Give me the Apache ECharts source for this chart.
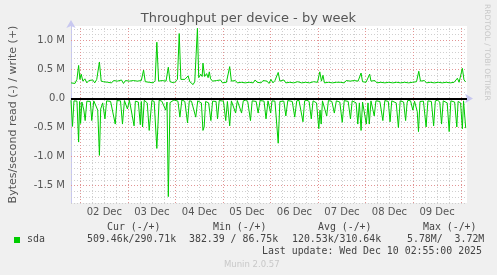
<!DOCTYPE html>
<html><head><meta charset="utf-8">
<script src="https://cdn.jsdelivr.net/npm/echarts@6/dist/echarts.min.js"></script>
<style>html,body{margin:0;padding:0;background:#f0f0f0}#c{width:497px;height:275px}</style>
</head><body><div id="c"></div>
<script>
// Hours since 01 Dec 00:00, values in kB/s
const writeHours = [19.15,20.15,21.15,22.15,23.0,23.65,24.3,25.15,26.15,27.15,28.15,29.15,30.15,31.15,32.15,33.5,34.4,35.65,36.65,37.65,38.65,39.65,40.65,41.65,42.65,43.65,44.65,45.65,46.65,47.65,48.65,49.65,50.65,51.65,52.65,53.65,54.65,55.8,56.65,57.65,58.65,59.65,60.65,61.65,62.5,63.4,64.15,65.15,66.15,67.15,68.3,69.15,70.15,71.15,72.15,72.9,73.8,74.65,75.65,76.65,77.4,78.3,79.15,80.15,80.8,81.65,82.4,83.0,83.65,84.65,85.4,85.8,86.65,87.65,88.4,89.0,89.65,90.65,91.65,92.65,93.65,94.65,95.65,96.65,97.65,98.4,99.3,100.15,101.15,102.15,103.15,104.15,105.15,106.15,107.15,108.15,109.15,110.15,111.15,112.15,113.15,114.15,115.15,116.15,117.15,118.15,119.15,120.15,121.15,122.15,122.9,123.8,124.65,125.65,126.65,127.65,128.65,129.65,130.65,131.65,132.65,133.65,134.65,135.65,136.65,137.65,138.65,139.65,140.65,141.65,142.65,143.65,144.8,145.65,146.4,147.15,148.15,149.15,150.15,151.15,152.15,153.15,154.15,155.15,156.15,157.15,158.15,159.15,160.15,161.15,162.15,163.15,164.15,164.9,165.65,166.4,167.15,168.15,169.15,170.0,170.65,171.65,172.65,173.65,174.65,175.65,176.65,177.65,178.65,179.65,180.65,181.65,182.65,183.65,184.65,185.65,186.65,187.65,188.65,189.65,190.65,191.65,192.65,193.65,194.8,195.65,196.65,197.65,198.65,199.65,200.65,201.65,202.65,203.65,204.65,205.65,206.65,207.65,208.65,209.65,210.65,211.65,212.65,213.4,214.3,215.15,215.9,216.8,217.65,218.5];
const writeK = [270,300,260,330,570,330,420,300,340,270,310,280,320,270,330,630,300,290,310,280,300,270,310,290,300,270,320,260,310,290,300,270,310,280,300,270,310,490,290,310,280,300,270,310,970,300,280,310,280,300,540,290,310,270,300,330,1120,330,310,330,300,390,290,310,240,290,320,1210,360,420,380,610,380,430,360,460,340,300,270,310,280,320,270,300,280,310,550,300,280,310,270,300,280,310,270,300,280,310,270,320,280,300,270,310,290,300,260,330,270,310,300,450,300,280,320,270,300,280,310,270,300,290,310,270,300,280,310,270,300,290,310,280,460,300,400,270,300,280,310,270,300,280,310,280,300,270,310,280,300,270,310,280,300,330,440,290,310,280,300,420,300,280,310,270,300,280,310,270,300,280,310,270,300,280,310,270,300,280,310,270,300,280,310,290,470,300,280,310,270,300,280,310,270,300,280,310,270,300,280,310,270,300,280,300,350,280,310,520,320,290];
const readHours = [19.15,19.9,20.65,21.3,22.15,23.0,23.5,24.0,24.65,25.15,25.65,26.3,27.15,28.15,28.9,29.65,30.65,31.65,32.65,33.5,34.15,35.15,35.65,36.3,37.15,38.15,39.15,40.15,41.5,42.4,43.15,44.15,45.15,46.15,46.9,47.65,48.65,49.65,51.0,51.65,52.5,53.15,54.15,54.65,55.3,56.15,56.9,57.65,58.65,60.0,61.15,62.5,63.65,65.0,65.9,67.0,67.65,68.3,69.15,70.0,71.15,72.0,73.15,74.15,75.15,75.8,76.65,78.0,78.9,80.0,80.9,82.15,83.15,84.15,85.0,85.8,86.4,87.15,87.65,88.65,89.8,90.65,91.5,92.4,93.15,94.0,94.8,96.15,97.3,98.15,99.3,100.15,101.0,102.3,103.15,104.15,105.3,106.15,107.3,108.4,109.8,110.65,111.5,112.65,113.65,114.65,115.65,116.65,117.65,118.65,120.0,120.65,121.3,122.15,122.9,123.8,124.65,125.5,126.65,127.65,128.65,129.65,130.9,132.15,133.15,134.3,135.15,136.3,137.15,138.3,139.4,140.5,141.4,142.15,143.15,144.3,144.9,145.5,146.15,146.65,148.3,149.15,149.65,150.9,152.15,153.15,153.8,154.9,156.15,157.15,157.8,159.15,160.3,161.15,162.0,163.15,164.0,164.8,165.65,166.4,167.0,168.3,169.15,169.8,170.65,171.15,172.3,173.15,173.65,175.15,176.65,177.65,178.3,179.4,180.3,181.15,182.0,183.4,184.5,185.4,186.15,187.15,188.15,188.9,189.3,190.65,191.8,192.65,194.0,194.65,195.4,196.0,197.15,198.5,199.4,200.15,201.15,202.3,203.15,204.3,205.4,206.3,207.15,208.0,209.15,210.15,211.0,211.8,212.9,214.0,214.65,215.15,215.9,216.8,217.4,217.9,218.5];
const readK = [-30,-480,-40,-25,-45,-750,-50,-430,-60,-35,-200,-380,-45,-70,-50,-380,-40,-60,-200,-980,-180,-75,-45,-350,-40,-30,-50,-30,-440,-35,-25,-40,-440,-35,-60,-180,-30,-20,-470,-45,-30,-60,-450,-50,-490,-30,-40,-75,-550,-35,-50,-860,-30,-45,-30,-200,-60,-1690,-70,-40,-25,-30,-45,-320,-25,-30,-50,-420,-40,-45,-30,-320,-40,-45,-75,-550,-490,-50,-40,-75,-380,-45,-30,-50,-350,-35,-30,-45,-380,-50,-470,-40,-30,-250,-35,-45,-250,-40,-30,-50,-380,-40,-30,-50,-250,-35,-30,-45,-350,-40,-250,-40,-30,-45,-75,-770,-50,-30,-45,-300,-35,-30,-50,-320,-40,-30,-50,-400,-40,-30,-50,-350,-40,-30,-75,-520,-200,-440,-40,-30,-300,-35,-30,-50,-250,-40,-30,-60,-410,-35,-30,-50,-350,-40,-30,-75,-440,-75,-550,-60,-35,-440,-75,-440,-40,-30,-300,-40,-30,-50,-380,-35,-30,-50,-400,-40,-30,-75,-500,-40,-30,-60,-380,-75,-30,-40,-200,-45,-220,-570,-50,-30,-45,-490,-40,-30,-50,-470,-40,-30,-60,-440,-40,-30,-75,-570,-40,-30,-60,-490,-50,-30,-75,-520,-40,-50,-510];
const dayLabels = ['02 Dec','03 Dec','04 Dec','05 Dec','06 Dec','07 Dec','08 Dec','09 Dec'];
const dayLabelHours = [36,60,84,108,132,156,180,204];
const legendHeads = ['Cur (-/+)','Min (-/+)','Avg (-/+)','Max (-/+)'];
const legendVals = ['509.46k/290.71k','382.39 / 86.75k','120.53k/310.64k','5.78M/  3.72M'];
const xMin = 19.15, xMax = 219.15;

const pair = (h, v) => h.map((x, i) => [x, v[i]]);
const green = '#00cc00';
const minorV = [], majorV = [];
for (let h = 24; h < xMax; h += 6) { (h % 24 === 0 ? majorV : minorV).push(h); }
const minorH = [], majorH = [];
for (let v = -1800; v <= 1200; v += 100) { if (v === 0) continue; (v % 500 === 0 ? majorH : minorH).push(v); }
const ml = (arr, key, color) => arr.map(v => ({ [key]: v, lineStyle: { color, type: [1, 2], width: 1 } }));

const chart = echarts.init(document.getElementById('c'), null, { renderer: 'canvas' });
const mono = 'DejaVu Sans Mono';
const graphics = [
  { type: 'text', left: 'center', top: 12, style: { text: 'Throughput per device - by week', font: '13px "DejaVu Sans"', fill: '#555' } },
  { type: 'text', x: 491, y: 4, rotation: -Math.PI / 2, style: { text: 'RRDTOOL / TOBI OETIKER', font: '7.5px "DejaVu Sans"', fill: '#c8c8c8' } },
  { type: 'rect', shape: { x: 14, y: 237, width: 6, height: 6 }, style: { fill: green } },
  { type: 'text', x: 27, y: 234, style: { text: 'sda', font: '9.9px ' + mono, fill: '#444' } },
  { type: 'text', x: 262, y: 246, style: { text: 'Last update: Wed Dec 10 02:55:00 2025', font: '9.9px ' + mono, fill: '#444' } },
  { type: 'text', x: 224, y: 260, style: { text: 'Munin 2.0.57', font: '8.5px "DejaVu Sans"', fill: '#c8c8c8' } }
];
const headX = [107, 213, 318, 423], valX = [87, 189, 292, 407];
legendHeads.forEach((t, i) => graphics.push({ type: 'text', x: headX[i], y: 222, style: { text: t, font: '9.9px ' + mono, fill: '#444' } }));
legendVals.forEach((t, i) => graphics.push({ type: 'text', x: valX[i], y: 234, style: { text: t, font: '9.9px ' + mono, fill: '#444' } }));

chart.setOption({
  backgroundColor: '#f0f0f0',
  animation: false,
  textStyle: { fontFamily: 'DejaVu Sans' },
  grid: { left: 67, right: 30, top: 26, bottom: 72, show: true, backgroundColor: '#ffffff', borderWidth: 0 },
  xAxis: [{
    type: 'value', min: xMin, max: xMax,
    axisLine: { show: true, lineStyle: { color: '#c8c8f0', width: 1 }, symbol: ['none', 'arrow'], symbolSize: [7, 8], symbolOffset: [0, 6] },
    axisTick: { show: false }, splitLine: { show: false },
    axisLabel: { customValues: dayLabelHours, formatter: v => dayLabels[dayLabelHours.indexOf(v)] || '', color: '#555', fontSize: 10, margin: 4, hideOverlap: false }
  }],
  yAxis: [{
    type: 'value', min: -1800, max: 1250, interval: 100,
    name: 'Bytes/second read (-) / write (+)', nameLocation: 'middle', nameGap: 52, nameRotate: 90,
    nameTextStyle: { color: '#555', fontSize: 11 },
    axisLine: { show: true, lineStyle: { color: '#c8c8f0', width: 1 }, symbol: ['none', 'arrow'], symbolSize: [7, 8], symbolOffset: [0, 6] },
    axisTick: { show: false }, splitLine: { show: false },
    axisLabel: { color: '#555', fontSize: 10, margin: 6, showMaxLabel: false,
      formatter: v => (v % 500 === 0 && v <= 1200) ? (v === 0 ? '0.0' : (v / 1000).toFixed(1) + ' M') : '' }
  }],
  series: [
    { type: 'line', data: [[xMin, 0]], showSymbol: false, lineStyle: { opacity: 0 }, silent: true, z: 1,
      markLine: { silent: true, symbol: 'none', label: { show: false }, z: 1, animation: false,
        data: [].concat(ml(minorV, 'xAxis', '#cfcfcf'), ml(minorH, 'yAxis', '#cfcfcf'), ml(majorV, 'xAxis', '#e29494'), ml(majorH, 'yAxis', '#e29494')) } },
    { name: 'write', type: 'line', data: pair(writeHours, writeK), showSymbol: false, lineStyle: { color: green, width: 1 }, z: 3 },
    { name: 'read', type: 'line', data: pair(readHours, readK), showSymbol: false, lineStyle: { color: green, width: 1 }, z: 3,
      markLine: { silent: true, symbol: 'none', label: { show: false }, z: 6, data: [{ yAxis: 0, lineStyle: { color: '#000', width: 2, type: 'solid' } }] } }
  ],
  graphic: graphics
});
</script></body></html>
